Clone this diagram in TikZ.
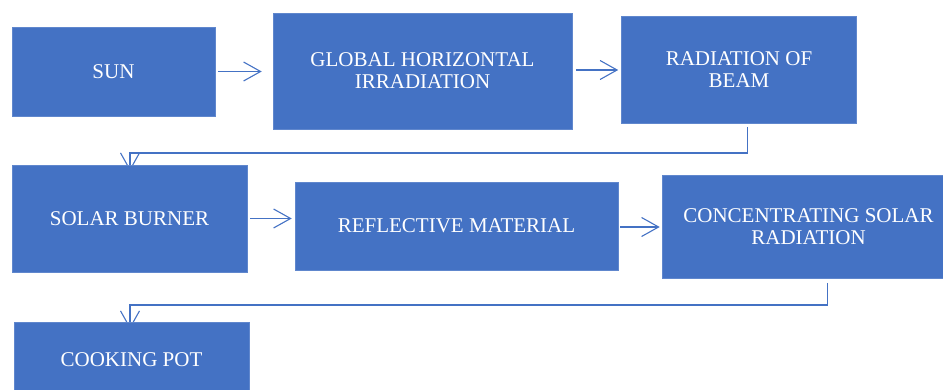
\documentclass[tikz,border=0pt]{standalone}
\usepackage{fontspec}
\setmainfont{Liberation Serif}
\usetikzlibrary{arrows.meta}
\definecolor{boxblue}{HTML}{4472C4}
\tikzset{
	flowbox/.style={fill=boxblue, draw=boxblue!85!white, line width=0.6pt, text=white, align=center, inner sep=0pt, font=\fontsize{21}{22}\selectfont},
	flowline/.style={draw=boxblue, line width=1.1pt, -{Straight Barb[length=17pt,width=19pt,line width=1.1pt]}}
}

\begin{document}
\begin{tikzpicture}[x=1pt, y=-1pt]
			%%%%% START %%%%%
			
			\clip (0, 0) rectangle (943, 390);
			
			% elbow connectors first, the boxes cover their tips
			\coordinate (beamout) at (747.5, 127);
			\coordinate (concout) at (827.5, 283);
			\coordinate (burnerin) at (130, 171);
			\coordinate (potin) at (130, 329);
			\draw[flowline] (beamout) -- ++(0, 26) -| (burnerin);
			\draw[flowline] (concout) -- ++(0, 22) -| (potin);
			
			\node[flowbox, minimum width=203, minimum height=89] (sun) at (113.5, 71.5) {SUN};
			\node[flowbox, minimum width=299, minimum height=116] (ghi) at (422.5, 71) {GLOBAL HORIZONTAL\\IRRADIATION};
			\node[flowbox, minimum width=235, minimum height=107] (beam) at (739, 69.5) {RADIATION OF\\BEAM};
			
			\node[flowbox, minimum width=235, minimum height=107] (burner) at (129.5, 218.5) {SOLAR BURNER};
			\node[flowbox, minimum width=323, minimum height=88] (reflect) at (456.5, 226) {REFLECTIVE MATERIAL};
			\node[flowbox, minimum width=293, minimum height=103] (conc) at (808.5, 226.5) {CONCENTRATING SOLAR\\RADIATION};
			
			\node[flowbox, minimum width=235, minimum height=76] (pot) at (131.5, 360) {COOKING POT};
			
			\draw[flowline] ([xshift=3pt]sun.east) -- ([xshift=-11pt]sun.east -| ghi.west);
			\draw[flowline] ([xshift=4pt, yshift=1pt]ghi.east) -- ([xshift=-3pt, yshift=1pt]ghi.east -| beam.west);
			\draw[flowline] ([xshift=3pt]burner.east) -- ([xshift=-3pt]burner.east -| reflect.west);
			\draw[flowline] ([xshift=2pt, yshift=-1pt]reflect.east) -- ([xshift=-2pt, yshift=-1pt]reflect.east -| conc.west);
			
			%%%%% END %%%%%
		\end{tikzpicture}
\end{document}
